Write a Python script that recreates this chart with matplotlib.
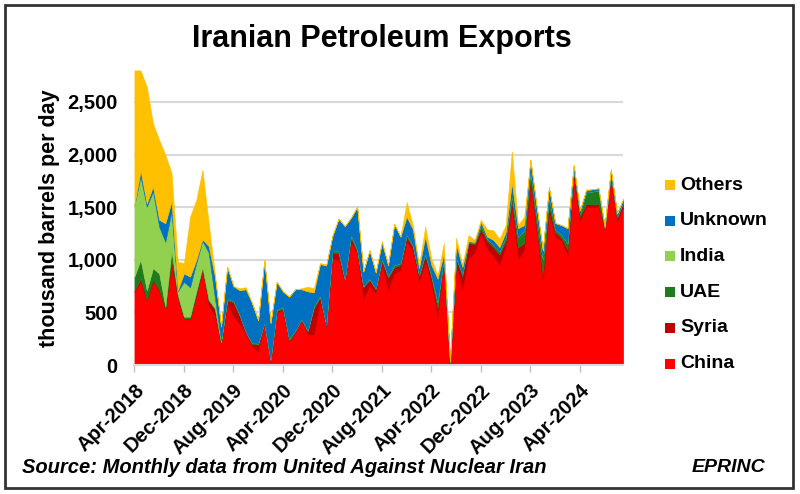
import matplotlib
matplotlib.use("Agg")
import matplotlib.pyplot as plt
from matplotlib.patches import Rectangle
import numpy as np

plt.rcParams['font.family'] = ['Liberation Sans', 'DejaVu Sans']

tick_labels = ["Apr-2018", "Dec-2018", "Aug-2019", "Apr-2020", "Dec-2020",
               "Aug-2021", "Apr-2022", "Dec-2022", "Aug-2023", "Apr-2024"]

china = [690, 800, 610, 800, 700, 530, 960, 640, 440, 430,
         660, 900, 560, 470, 190, 590, 460, 390, 300, 180,
         130, 390, 30, 500, 520, 220, 310, 420, 290, 290,
         600, 360, 1010, 1000, 800, 1160, 1060, 630, 750, 680,
         960, 710, 870, 900, 1170, 1080, 790, 980, 770, 460,
         1000, 30, 950, 720, 1010, 1070, 1250, 1100, 1040, 950,
         1120, 1500, 1010, 1090, 1720, 1260, 800, 1450, 1220, 1180,
         1040, 1790, 1370, 1500, 1500, 1500, 1290, 1800, 1360, 1500]
syria = [20, 20, 10, 10, 15, 10, 40, 10, 5, 10,
         20, 10, 50, 60, 20, 20, 140, 80, 15, 20,
         70, 10, 20, 20, 10, 10, 10, 10, 30, 250,
         40, 20, 60, 60, 10, 50, 20, 110, 60, 40,
         30, 120, 60, 50, 50, 40, 60, 60, 60, 80,
         20, 0, 60, 120, 150, 80, 40, 80, 80, 100,
         60, 60, 110, 70, 60, 60, 60, 60, 40, 30,
         60, 40, 40, 30, 30, 30, 10, 20, 40, 40]
uae = [130, 180, 90, 110, 155, 15, 90, 20, 15, 20,
       20, 20, 10, 10, 5, 20, 10, 10, 5, 10,
       5, 5, 0, 10, 20, 20, 10, 10, 10, 20,
       20, 5, 25, 20, 10, 30, 20, 10, 10, 10,
       20, 20, 20, 20, 20, 20, 10, 20, 20, 60,
       10, 0, 10, 30, 10, 10, 40, 20, 20, 30,
       40, 60, 100, 120, 70, 100, 150, 90, 30, 30,
       60, 30, 30, 110, 120, 130, 5, 0, 10, 10]
india = [680, 790, 795, 730, 445, 617, 370, 30, 330, 280,
         270, 250, 450, 100, 20, 0, 0, 0, 0, 0,
         0, 0, 0, 0, 0, 0, 0, 0, 0, 0,
         0, 0, 0, 0, 0, 0, 0, 0, 0, 0,
         0, 0, 0, 0, 0, 0, 0, 0, 0, 0,
         0, 0, 0, 0, 0, 0, 0, 0, 0, 0,
         0, 0, 0, 0, 0, 0, 0, 0, 0, 0,
         0, 0, 0, 0, 0, 0, 0, 0, 0, 0]
unknown = [0, 55, 30, 45, 65, 175, 95, 10, 80, 100,
           30, 15, 60, 200, 130, 300, 140, 230, 400, 380,
           220, 590, 350, 260, 150, 400, 390, 280, 370, 130,
           300, 560, 130, 310, 500, 160, 400, 140, 270, 150,
           150, 100, 390, 250, 170, 150, 60, 160, 100, 220,
           30, 5, 130, 60, 5, 10, 30, 20, 50, 40,
           40, 110, 80, 50, 100, 90, 80, 90, 60, 90,
           140, 40, 30, 20, 20, 20, 15, 40, 30, 30]
others = [1280, 955, 1110, 600, 760, 650, 270, 270, 100, 570,
          570, 660, 220, 30, 5, 5, 0, 20, 20, 0,
          0, 0, 0, 0, 0, 0, 0, 10, 45, 40,
          10, 10, 10, 0, 0, 0, 10, 0, 0, 0,
          20, 0, 0, 0, 140, 40, 30, 95, 60, 30,
          100, 0, 60, 20, 60, 20, 20, 70, 90, 80,
          70, 300, 30, 80, 0, 0, 0, 0, 0, 0,
          0, 0, 0, 10, 0, 0, 0, 0, 0, 0]

series_names = ["China", "Syria", "UAE", "India", "Unknown", "Others"]
series_vals = [china, syria, uae, india, unknown, others]
colors = ["#FF0000", "#C00000", "#1E7B1E", "#92D050", "#0070C0", "#FFC000"]

months = np.arange(len(china))

fig = plt.figure(figsize=(8.0, 4.94), dpi=100)
ax = fig.add_axes([0.168, 0.261, 0.611, 0.5965])

polys = ax.stackplot(months, *series_vals, colors=colors, labels=series_names,
                     linewidth=0.4, zorder=3)
for p, c in zip(polys, colors):
    p.set_edgecolor(c)

ax.set_xlim(0, len(china) - 1)
ax.set_ylim(0, 2800)
yt = [0, 500, 1000, 1500, 2000, 2500]
ax.set_yticks(yt)
ax.set_yticklabels([f"{v:,}" for v in yt], fontsize=14.5, fontweight='bold')
ax.tick_params(axis='y', length=0, pad=12)
ax.grid(axis='y', color='#d9d9d9', linewidth=1.5, zorder=0)
ax.set_axisbelow(True)

xt = np.arange(0, len(china), 8)[:len(tick_labels)]
ax.set_xticks(xt)
ax.set_xticklabels(tick_labels, rotation=45, ha='right', va='top',
                   rotation_mode='anchor', fontsize=14.5, fontweight='bold')
ax.tick_params(axis='x', length=5, color='#bfbfbf', width=1, pad=6)

for s in ['top', 'right', 'left']:
    ax.spines[s].set_visible(False)
ax.spines['bottom'].set_color('#d9d9d9')
ax.spines['bottom'].set_linewidth(1.5)
ax.spines['bottom'].set_zorder(4)

ax.set_ylabel("thousand barrels per day", fontsize=15.5, fontweight='bold', labelpad=5)

fig.text(0.4775, 0.921, "Iranian Petroleum Exports", fontsize=22, fontweight='bold',
         ha='center', va='center')

# legend (manual, top entry = Others)
leg_y0 = 185
for k, (name, c) in enumerate(zip(series_names[::-1], colors[::-1])):
    yy = leg_y0 + k * 35.7
    fig.patches.append(Rectangle((665 / 800, 1 - (yy + 5) / 494), 10 / 800, 10 / 494,
                                 transform=fig.transFigure, facecolor=c, edgecolor='none'))
    fig.text(680 / 800, 1 - yy / 494, name, fontsize=14, fontweight='bold',
             ha='left', va='center')

fig.text(22 / 800, 1 - 467 / 494, "Source: Monthly data from United Against Nuclear Iran",
         fontsize=14.5, fontweight='bold', style='italic', ha='left', va='center')
fig.text(765 / 800, 1 - 467 / 494, "EPRINC", fontsize=14, fontweight='bold',
         style='italic', ha='right', va='center')

fig.patches.append(Rectangle((5 / 800, 1 - 488 / 494), 788 / 800, 483 / 494,
                             transform=fig.transFigure, facecolor='none',
                             edgecolor='#333333', linewidth=2))

fig.savefig("out.png", dpi=100)
